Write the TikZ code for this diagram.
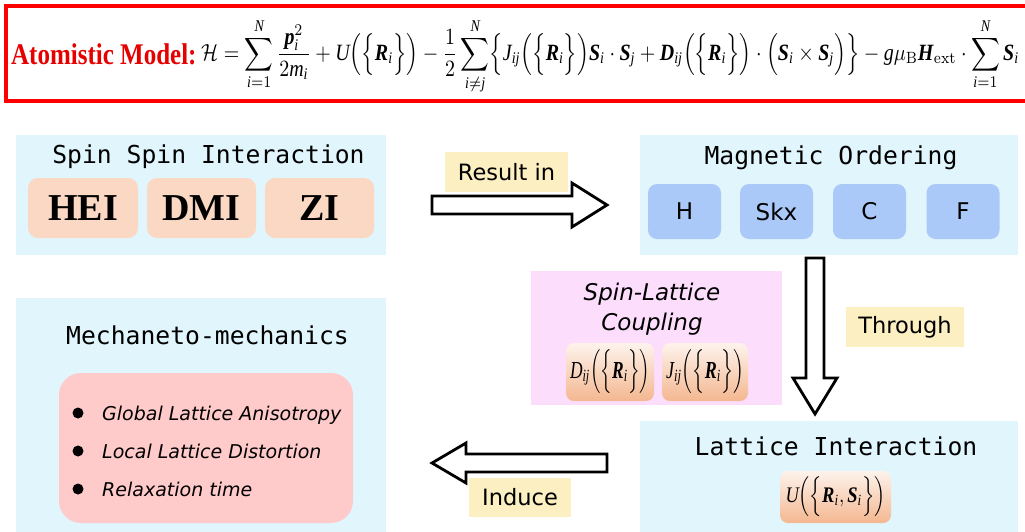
\documentclass[tikz,border=0pt]{standalone}
\usepackage{amsmath}
\usepackage{bm}
\usepackage[no-math]{fontspec}
\setmainfont{Liberation Serif}
\newfontfamily\monof{DejaVu Sans Mono}
\newfontfamily\labf{DejaVu Sans}
\usetikzlibrary{calc}
\newcommand\ti[1]{\textit{#1}}
\newcommand\tb[1]{\textbf{\textit{#1}}}
\definecolor{panelblue}{HTML}{E1F5FD}
\definecolor{peach}{HTML}{FAD8C4}
\definecolor{subblue}{HTML}{ABC9F8}
\definecolor{lblyellow}{HTML}{FCEFC1}
\definecolor{slcpink}{HTML}{FCDDFC}
\definecolor{innerpink}{HTML}{FFCACA}
\definecolor{titlered}{HTML}{E60000}
\definecolor{ftop}{HTML}{FDF3EC}
\definecolor{fbot}{HTML}{F4B790}
\begin{document}
\begin{tikzpicture}[x=1pt,y=-1pt,
  panel/.style={fill=panelblue, draw=none, inner sep=0pt, outer sep=0pt},
  pinkpanel/.style={fill=slcpink, draw=none, inner sep=0pt, outer sep=0pt},
  subpeach/.style={fill=peach, rounded corners=10pt, inner sep=0pt, minimum height=60pt,
     font=\bfseries\fontsize{38}{40}\selectfont},
  subbluebox/.style={fill=subblue, rounded corners=9pt, inner sep=0pt, minimum width=73pt, minimum height=55pt,
     font=\labf\fontsize{23}{26}\selectfont},
  ylabel/.style={fill=lblyellow, inner sep=0pt, font=\labf\fontsize{22.5}{26}\selectfont},
  blockarrow/.style={draw=black, fill=white, line width=2.8pt, line join=miter},
  fbox/.style={top color=ftop, bottom color=fbot, draw=none, rounded corners=8pt, inner sep=0pt},
  titletext/.style={font=\monof\fontsize{24.7}{28}\selectfont, anchor=base, inner sep=0pt},
  bullettext/.style={font=\labf\itshape\fontsize{19}{22}\selectfont, anchor=base west, inner sep=0pt},
  bulletdot/.style={circle, fill=black, inner sep=0pt, minimum size=11pt},
  slctext/.style={font=\labf\itshape\fontsize{23}{26}\selectfont, anchor=base, inner sep=0pt}
]
\useasboundingbox (0,0) rectangle (1025,531);
\clip (0,0) rectangle (1025,531);

% top formula box
\node[draw=red, line width=3.5pt, fill=white, inner sep=0pt, minimum width=1030pt, minimum height=95pt, anchor=north west] (topbox) at (4,4) {};
\node[anchor=west, inner sep=0pt, text=titlered] (atom) at (11,54) {\scalebox{1}[1.2]{\fontsize{25}{30}\selectfont\bfseries Atomistic Model:}};
\node[anchor=west, inner sep=0pt] (ham) at (201,56) {\resizebox*{818pt}{76pt}{$\displaystyle
 \mathcal{H}=\sum_{\ti{i}=1}^{\ti{N}}\frac{\tb{p}_{\ti{i}}^{2}}{2\ti{m}_{\ti{i}}}+\ti{U}\Bigl(\Bigl\{\tb{R}_{\ti{i}}\Bigr\}\Bigr)
 -\frac{1}{2}\sum_{\ti{i}\neq \ti{j}}^{\ti{N}}\Bigl\{\ti{J}_{\ti{ij}}\Bigl(\Bigl\{\tb{R}_{\ti{i}}\Bigr\}\Bigr)\tb{S}_{\ti{i}}\cdot\tb{S}_{\ti{j}}
 +\tb{D}_{\ti{ij}}\Bigl(\Bigl\{\tb{R}_{\ti{i}}\Bigr\}\Bigr)\cdot\Bigl(\tb{S}_{\ti{i}}\times\tb{S}_{\ti{j}}\Bigr)\Bigr\}
 -\ti{g}\mu_{\mathrm{B}}\tb{H}_{\mathrm{ext}}\cdot\sum_{\ti{i}=1}^{\ti{N}}\tb{S}_{\ti{i}}$}};

% panels
\node[panel, minimum width=370pt, minimum height=120pt] (spin) at (201,195) {};
\node[panel, minimum width=378pt, minimum height=120pt] (mag) at (829,195) {};
\node[pinkpanel, minimum width=251pt, minimum height=134pt] (slc) at (656.5,338) {};
\node[panel, minimum width=370pt, minimum height=247pt] (mech) at (201,421.5) {};
\node[panel, minimum width=378pt, minimum height=124pt] (lat) at (829,483) {};

% titles
\node[titletext] (spintitle) at (208.5,163) {Spin Spin Interaction};
\node[titletext] (magtitle) at (831,164) {Magnetic Ordering};
\node[titletext] (mechtitle) at (207.5,344) {Mechaneto-mechanics};
\node[titletext] (lattitle) at (836,455) {Lattice Interaction};

% spin sub boxes
\node[subpeach, minimum width=110pt] (hei) at (83,208) {HEI};
\node[subpeach, minimum width=109pt] (dmi) at (201.5,208) {DMI};
\node[subpeach, minimum width=109pt] (zi) at (319.5,208) {ZI};

% magnetic ordering sub boxes
\node[subbluebox] (oh) at (684.5,211.5) {H};
\node[subbluebox] (oskx) at (776.5,211.5) {Skx};
\node[subbluebox] (oc) at (869.5,211.5) {C};
\node[subbluebox] (of) at (963,211.5) {F};

% spin-lattice coupling
\node[slctext] (slc1) at (652,300) {Spin-Lattice};
\node[slctext] (slc2) at (652,330) {Coupling};
\node[fbox, minimum width=88pt, minimum height=58pt] (dbox) at (610,372) {\resizebox*{80pt}{44pt}{$\ti{D}_{\ti{ij}}\Bigl(\Bigl\{\tb{R}_{\ti{i}}\Bigr\}\Bigr)$}};
\node[fbox, minimum width=86pt, minimum height=58pt] (jbox) at (705,372) {\resizebox*{78pt}{44pt}{$\ti{J}_{\ti{ij}}\Bigl(\Bigl\{\tb{R}_{\ti{i}}\Bigr\}\Bigr)$}};

% lattice interaction formula
\node[fbox, minimum width=111pt, minimum height=52pt] (ubox) at (835.5,497) {\resizebox*{100pt}{40pt}{$\ti{U}\Bigl(\Bigl\{\tb{R}_{\ti{i}},\tb{S}_{\ti{i}}\Bigr\}\Bigr)$}};

% mechaneto-mechanics list
\node[fill=innerpink, rounded corners=22pt, inner sep=0pt, minimum width=294pt, minimum height=150pt] (inner) at (206,448) {};
\node[bulletdot] (b1) at (78,413) {};
\node[bulletdot] (b2) at (78,451) {};
\node[bulletdot] (b3) at (78,489) {};
\node[bullettext] (t1) at (102,420) {Global Lattice Anisotropy};
\node[bullettext] (t2) at (102,458) {Local Lattice Distortion};
\node[bullettext] (t3) at (102,496) {Relaxation time};

% labels
\node[ylabel, minimum width=123pt, minimum height=40pt] (lres) at (506.5,172) {Result in};
\node[ylabel, minimum width=118pt, minimum height=40pt] (lthr) at (905,327) {Through};
\node[ylabel, minimum width=102pt, minimum height=39pt] (lind) at (520,497.5) {Induce};

% block arrows
\coordinate (ra1) at ($(spin.east)+(46,10)$);
\coordinate (ra2) at ($(mag.west)+(-33,10)$);
\draw[blockarrow] ($(ra1)+(0,-9)$) -- ($(ra2)+(-35,-9)$) -- ($(ra2)+(-35,-22)$) -- (ra2)
   -- ($(ra2)+(-35,22)$) -- ($(ra2)+(-35,9)$) -- ($(ra1)+(0,9)$) -- cycle;

\coordinate (da1) at ($(mag.south)+(-14,3)$);
\coordinate (da2) at ($(lat.north)+(-14,-7)$);
\draw[blockarrow] ($(da1)+(-9,0)$) -- ($(da1)+(9,0)$) -- ($(da2)+(9,-36)$) -- ($(da2)+(22,-36)$) -- (da2)
   -- ($(da2)+(-22,-36)$) -- ($(da2)+(-9,-36)$) -- cycle;

\coordinate (la1) at ($(lat.west)+(-33,-20)$);
\coordinate (la2) at ($(mech.east)+(46,41.5)$);
\draw[blockarrow] ($(la1)+(0,-9)$) -- ($(la2)+(34,-9)$) -- ($(la2)+(34,-20)$) -- (la2)
   -- ($(la2)+(34,20)$) -- ($(la2)+(34,9)$) -- ($(la1)+(0,9)$) -- cycle;
\end{tikzpicture}
\end{document}
